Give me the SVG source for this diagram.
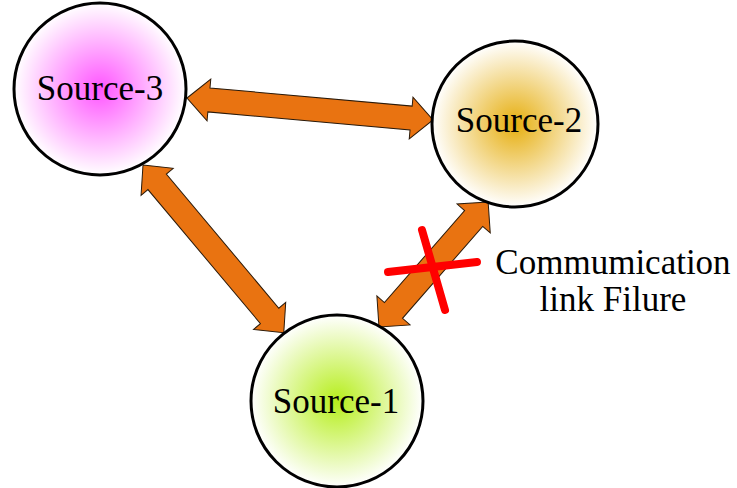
<svg xmlns="http://www.w3.org/2000/svg" width="737" height="488" viewBox="0 0 737 488">
  <defs>
    <radialGradient id="gPink" cx="50%" cy="50%" r="50%">
      <stop offset="0" stop-color="#ff55ff"/>
      <stop offset="1" stop-color="#ffffff"/>
    </radialGradient>
    <radialGradient id="gGold" cx="50%" cy="50%" r="50%">
      <stop offset="0" stop-color="#e6ae0e"/>
      <stop offset="1" stop-color="#ffffff"/>
    </radialGradient>
    <radialGradient id="gLime" cx="50%" cy="50%" r="50%">
      <stop offset="0" stop-color="#b6ee1c"/>
      <stop offset="1" stop-color="#ffffff"/>
    </radialGradient>
  </defs>
  <style>
    .node circle { stroke: #000; stroke-width: 3; }
    .label { font-family: "Liberation Serif", "Times New Roman", serif; font-size: 35px; fill: #000; text-anchor: middle; }
    .link { fill: #e97311; stroke: #2a1a0a; stroke-width: 1; stroke-linejoin: miter; }
    .fail { stroke: #ff0000; stroke-width: 8; stroke-linecap: round; fill: none; }
  </style>

  <g id="connectors">
    <!-- Source-3 <-> Source-2 -->
    <path class="link" transform="translate(187,98) rotate(5.11)"
          d="M0,0 L22,-21 L22,-12 L225,-12 L225,-21 L247,0 L225,21 L225,12 L22,12 L22,21 Z"/>
    <!-- Source-3 <-> Source-1 -->
    <path class="link" transform="translate(143,165) rotate(50)"
          d="M0,0 L22,-21 L22,-12 L197,-12 L197,-21 L219,0 L197,21 L197,12 L22,12 L22,21 Z"/>
    <!-- Source-1 <-> Source-2 (failed) -->
    <path class="link" transform="translate(379,327) rotate(-48.9)"
          d="M0,0 L22,-22 L22,-12 L144,-12 L144,-22 L166,0 L144,22 L144,12 L22,12 L22,22 Z"/>
    <!-- failure mark -->
    <g id="failure-mark">
      <line class="fail" x1="422" y1="230" x2="445" y2="310"/>
      <line class="fail" x1="388" y1="272" x2="477" y2="262"/>
    </g>
  </g>

  <g id="source-3" class="node">
    <circle cx="100" cy="89" r="86" fill="url(#gPink)"/>
    <text class="label" x="100" y="100">Source-3</text>
  </g>

  <g id="source-2" class="node">
    <circle cx="515" cy="124" r="83" fill="url(#gGold)"/>
    <text class="label" x="519" y="132">Source-2</text>
  </g>

  <g id="source-1" class="node">
    <circle cx="337" cy="401" r="86" fill="url(#gLime)"/>
    <text class="label" x="336" y="413">Source-1</text>
  </g>

  <g id="failure-note">
    <text class="label" x="613" y="274">Commumication</text>
    <text class="label" x="613" y="311">link Filure</text>
  </g>
</svg>
